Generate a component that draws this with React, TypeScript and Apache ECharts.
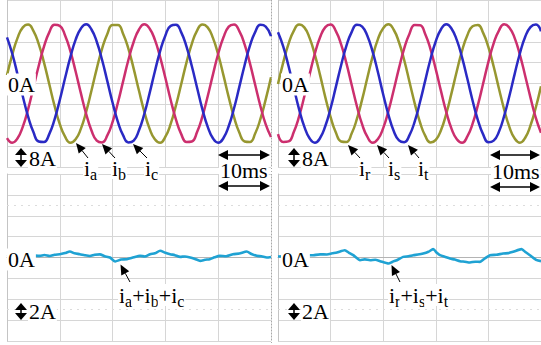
import React, { useEffect, useRef } from "react";
import * as echarts from "echarts";

// ---- data ----
const TIME_STEP_MS = 1;
const TIME_MIN_MS = 0;
const TIME_MAX_MS = 50;
const TIME_DIV_MS = 10;
const TOP_MIN_A = -32;
const TOP_MAX_A = 32;
const TOP_DIV_A = 8;
const BOT_MIN_A = -8;
const BOT_MAX_A = 8;
const BOT_DIV_A = 2;

// left panel, phase currents (A), one sample per ms
const iaLeft = [3.2, 11.1, 17.5, 21.5, 22.6, 20.2, 15.2, 8.1, -0.2, -8.5, -15.6, -20.4, -22.7, -21.4, -17.3, -10.8, -2.7, 5.7, 13.3, 19.0, 22.4, 22.4, 19.0, 13.3, 5.6, -2.8, -10.8, -17.3, -21.4, -22.7, -20.4, -15.5, -8.4, -0.2, 8.1, 15.2, 20.3, 22.6, 21.5, 17.5, 11.1, 3.1, -5.3, -12.9, -18.8, -22.2, -22.4, -19.2, -13.6, -6.1, 2.4];
const ibLeft = [-20.9, -22.7, -21.0, -16.5, -9.8, -1.6, 6.7, 14.1, 19.6, 22.5, 22.1, 18.4, 12.4, 4.6, -3.8, -11.7, -18.0, -21.9, -22.6, -19.9, -14.7, -7.4, 0.9, 9.1, 16.0, 20.7, 22.7, 21.1, 16.8, 10.1, 2.1, -6.3, -13.8, -19.4, -22.4, -22.2, -18.6, -12.7, -5.0, 3.4, 11.4, 17.7, 21.8, 22.6, 20.1, 15.0, 7.8, -0.5, -8.7, -15.7, -20.5];
const icLeft = [17.7, 11.4, 3.4, -5.0, -12.7, -18.6, -22.2, -22.4, -19.4, -13.8, -6.3, 2.1, 10.1, 16.8, 21.1, 22.7, 20.7, 16.0, 9.1, 0.9, -7.4, -14.7, -19.9, -22.6, -21.9, -17.9, -11.7, -3.8, 4.6, 12.4, 18.4, 22.1, 22.5, 19.6, 14.1, 6.7, -1.6, -9.8, -16.5, -21.0, -22.7, -20.9, -16.3, -9.5, -1.3, 7.0, 14.4, 19.7, 22.5, 21.8, 18.2];

// right panel, phase currents (A)
const irRight = [-0.2, 8.1, 15.2, 20.2, 22.6, 21.5, 17.5, 11.1, 3.2, -5.3, -12.9, -18.8, -22.2, -22.4, -19.2, -13.6, -6.1, 2.3, 10.4, 17.0, 21.2, 22.7, 20.6, 15.8, 8.9, 0.6, -7.7, -14.9, -20.1, -22.6, -21.6, -17.8, -11.5, -3.6, 4.8, 12.6, 18.5, 21.9, 22.4, 19.4, 13.9, 6.5, -1.9, -10.0, -16.7, -21.1, -22.7, -20.8, -16.1, -9.3, -1.1];
const isRight = [-19.4, -22.4, -22.2, -18.6, -12.7, -5.0, 3.4, 11.4, 17.7, 21.6, 22.6, 20.1, 15.0, 7.8, -0.5, -8.7, -15.7, -20.5, -22.7, -21.3, -17.1, -10.5, -2.5, 5.9, 13.5, 19.1, 22.4, 22.3, 18.9, 13.1, 5.4, -3.0, -11.0, -17.4, -21.4, -22.7, -20.3, -15.4, -8.3, 0.0, 8.3, 15.4, 20.3, 22.7, 21.4, 17.4, 10.9, 2.9, -5.4, -13.1, -18.9];
const itRight = [19.6, 14.1, 6.7, -1.6, -9.8, -16.5, -21.0, -22.7, -20.9, -16.3, -9.5, -1.3, 7.0, 14.4, 19.7, 22.5, 21.8, 18.2, 12.1, 4.3, -4.2, -12.0, -18.2, -21.8, -22.5, -19.8, -14.5, -7.1, 1.2, 9.4, 16.2, 20.8, 22.7, 21.0, 16.6, 9.9, 1.8, -6.6, -14.0, -19.5, -22.5, -21.9, -18.5, -12.4, -4.7, 3.7, 11.6, 17.9, 21.6, 22.6, 20.0];

// sums of the three currents: [time ms, current A]
const sumLeft: [number, number][] = [
  [0, 0.1], [1.5, 0.18], [3, 0.12], [4.5, 0.2], [6.2, 0.16], [7.1, 0.24], [8.1, 0.14], [9, 0.26], [10, 0.32], [11, 0.42], [11.9, 0.58], [12.8, 0.4], [13.8, 0.32], [14.7, 0.22], [15.7, 0.14], [16.6, 0.26], [17.6, 0.3], [18.5, 0.12], [19.5, 0.0], [20.5, -0.38], [21.6, -0.2], [22.7, -0.16], [24, 0.02], [25.2, 0.16], [26.1, 0.1], [27.1, 0.32], [28, 0.4], [29, 0.64], [30, 0.45], [30.9, 0.32], [31.8, 0.22], [32.8, 0.06], [33.7, 0.1], [34.7, 0], [35.6, -0.14], [36.6, -0.32], [37.5, -0.22], [38.4, -0.16], [39.3, 0.02], [40.3, 0.16], [41.5, 0.12], [42.8, 0.32], [44, 0.38], [45.4, 0.58], [46.3, 0.34], [47.3, 0.16], [48.2, 0.12], [49.2, 0], [50, 0.05],
];
const sumRight: [number, number][] = [
  [0, 0.1], [2, 0.15], [4, 0.1], [5.5, 0.2], [6.7, 0.22], [8, 0.3], [9.3, 0.29], [10.3, 0.4], [11.2, 0.48], [12.7, 0.7], [13.5, 0.45], [14.3, 0.22], [15.6, -0.26], [16.5, -0.18], [17.5, -0.26], [18.5, -0.22], [19.4, -0.35], [21, -0.58], [21.8, -0.4], [22.6, -0.26], [23.8, 0.06], [24.8, 0.12], [25.7, 0.22], [26.6, 0.28], [27.6, 0.38], [28.6, 0.55], [29.5, 0.8], [30.2, 0.45], [30.8, 0.22], [31.8, 0.05], [32.7, -0.1], [33.6, -0.2], [34.6, -0.35], [35.5, -0.4], [36.5, -0.48], [37.5, -0.4], [38.4, -0.42], [39.3, -0.1], [40.3, 0.22], [41.5, 0.26], [42.8, 0.38], [43.8, 0.42], [44.7, 0.54], [46.3, 0.8], [47.1, 0.5], [47.9, 0.22], [49.2, -0.26], [50, -0.35],
];

// faint cursor lines in the lower screens (A)
const cursorLevels = [5, -5];

// labels
const zeroLabel = "0A";
const topScaleLabel = "8A";
const bottomScaleLabel = "2A";
const timeScaleLabel = "10ms";
const leftPhaseSubs = ["a", "b", "c"];
const rightPhaseSubs = ["r", "s", "t"];

// ---- styles ----
const OLIVE = "#979730";
const PINK = "#cc2f6e";
const BLUE = "#2a2ac4";
const CYAN = "#1fa2d3";
const GRIDC = "#d6d6d6";
const SERIF = "'Liberation Serif', 'Times New Roman', 'DejaVu Serif', serif";
const MAIN = 22;
const SUB = 16;

let measureCtx: CanvasRenderingContext2D | null = null;
function textWidth(s: string, size: number): number {
  if (!measureCtx) measureCtx = document.createElement("canvas").getContext("2d");
  if (!measureCtx) return s.length * size * 0.5;
  measureCtx.font = `${size}px ${SERIF}`;
  return measureCtx.measureText(s).width;
}

function txt(text: string, x: number, y: number, size = MAIN, bg = true): any {
  return {
    type: "text",
    x,
    y,
    z: 100,
    silent: true,
    style: {
      text,
      font: `${size}px ${SERIF}`,
      fill: "#000",
      align: "left",
      verticalAlign: "middle",
      backgroundColor: bg ? "#fff" : undefined,
      padding: bg ? [0, 1, 0, 1] : 0,
    },
  };
}

// text made of [string, isSubscript] parts
function subText(x: number, y: number, parts: [string, boolean][], bg = true): any[] {
  const out: any[] = [];
  let cx = x;
  for (const [s, isSub] of parts) {
    const size = isSub ? SUB : MAIN;
    out.push(txt(s, cx, isSub ? y + 6 : y, size, bg));
    cx += textWidth(s, size);
  }
  return out;
}

function arrow(tip: [number, number], tail: [number, number], len = 10, w = 9): any[] {
  const dx = tip[0] - tail[0];
  const dy = tip[1] - tail[1];
  const L = Math.hypot(dx, dy);
  const ux = dx / L;
  const uy = dy / L;
  const bx = tip[0] - ux * len;
  const by = tip[1] - uy * len;
  const px = -uy * (w / 2);
  const py = ux * (w / 2);
  return [
    { type: "line", z: 110, silent: true, shape: { x1: tail[0], y1: tail[1], x2: bx, y2: by }, style: { stroke: "#000", lineWidth: 1 } },
    { type: "polygon", z: 110, silent: true, shape: { points: [tip, [bx + px, by + py], [bx - px, by - py]] }, style: { fill: "#000" } },
  ];
}

function hDoubleArrow(x1: number, x2: number, y: number): any[] {
  return [
    { type: "line", z: 110, silent: true, shape: { x1: x1 + 6, y1: y, x2: x2 - 6, y2: y }, style: { stroke: "#000", lineWidth: 1.6 } },
    { type: "polygon", z: 110, silent: true, shape: { points: [[x1, y], [x1 + 10, y - 5], [x1 + 10, y + 5]] }, style: { fill: "#000" } },
    { type: "polygon", z: 110, silent: true, shape: { points: [[x2, y], [x2 - 10, y - 5], [x2 - 10, y + 5]] }, style: { fill: "#000" } },
  ];
}

function vMarker(cx: number, top: number, bottom: number): any[] {
  return [
    { type: "polygon", z: 110, silent: true, shape: { points: [[cx, top], [cx - 6, top + 7], [cx + 6, top + 7]] }, style: { fill: "#000" } },
    { type: "line", z: 110, silent: true, shape: { x1: cx, y1: top + 6, x2: cx, y2: bottom - 6 }, style: { stroke: "#000", lineWidth: 1.5 } },
    { type: "polygon", z: 110, silent: true, shape: { points: [[cx, bottom], [cx - 6, bottom - 7], [cx + 6, bottom - 7]] }, style: { fill: "#000" } },
  ];
}

function toPairs(arr: number[]): [number, number][] {
  return arr.map((v, i) => [TIME_MIN_MS + i * TIME_STEP_MS, v]);
}

function buildOption(): any {
  const grids = [
    { left: 7, top: 0, width: 264, height: 167 },
    { left: 278, top: 0, width: 265, height: 167 },
    { left: 7, top: 174, width: 264, height: 167 },
    { left: 278, top: 174, width: 265, height: 167 },
  ];
  const xAxis = grids.map((_, i) => ({
    type: "value",
    gridIndex: i,
    min: TIME_MIN_MS,
    max: TIME_MAX_MS,
    interval: TIME_DIV_MS,
    axisLine: { show: i >= 2, lineStyle: { color: "#b4b4b4" } },
    axisTick: { show: false },
    axisLabel: { show: false },
    splitLine: { show: true, lineStyle: { color: GRIDC, width: 1 } },
  }));
  const yAxis = grids.map((_, i) => ({
    type: "value",
    gridIndex: i,
    min: i < 2 ? TOP_MIN_A : BOT_MIN_A,
    max: i < 2 ? TOP_MAX_A : BOT_MAX_A,
    interval: i < 2 ? TOP_DIV_A : BOT_DIV_A,
    axisLine: { show: true, onZero: false, lineStyle: { color: "#c4c4c4" } },
    axisTick: { show: false },
    axisLabel: { show: false },
    splitLine: { show: true, lineStyle: { color: GRIDC, width: 1 } },
  }));

  const phase = (name: string, data: number[], color: string, gi: number) => ({
    name,
    type: "line",
    xAxisIndex: gi,
    yAxisIndex: gi,
    data: toPairs(data),
    smooth: true,
    showSymbol: false,
    silent: true,
    lineStyle: { color, width: 2.5 },
  });
  const sum = (name: string, data: [number, number][], gi: number) => ({
    name,
    type: "line",
    xAxisIndex: gi,
    yAxisIndex: gi,
    data,
    smooth: 0.2,
    showSymbol: false,
    silent: true,
    lineStyle: { color: CYAN, width: 2.6 },
    markLine: {
      silent: true,
      symbol: "none",
      label: { show: false },
      lineStyle: { color: "#dcdcdc", type: [2, 5], width: 1 },
      data: cursorLevels.map((v) => ({ yAxis: v })),
    },
  });

  const series = [
    phase("ia", iaLeft, OLIVE, 0),
    phase("ib", ibLeft, PINK, 0),
    phase("ic", icLeft, BLUE, 0),
    phase("ir", irRight, OLIVE, 1),
    phase("is", isRight, PINK, 1),
    phase("it", itRight, BLUE, 1),
    sum("ia+ib+ic", sumLeft, 2),
    sum("ir+is+it", sumRight, 3),
  ];

  const g: any[] = [];
  g.push({ type: "line", z: 90, silent: true, shape: { x1: 271.5, y1: 0, x2: 271.5, y2: 345 }, style: { stroke: "#a8a8a8", lineWidth: 1, lineDash: [1, 2] } });

  // left side
  g.push(txt(zeroLabel, 7, 84.5));
  g.push(...vMarker(21, 148, 167));
  g.push(txt(topScaleLabel, 28, 158.5));
  const leftI = [83, 111, 144];
  leftPhaseSubs.forEach((s, k) => g.push(...subText(leftI[k], 168, [["i", false], [s, true]])));
  g.push(...arrow([76, 143], [88, 158]));
  g.push(...arrow([102, 144], [115, 158]));
  g.push(...arrow([133, 144], [147, 158]));
  g.push(...hDoubleArrow(218, 270, 155));
  g.push(txt(timeScaleLabel, 219, 170));
  g.push(...hDoubleArrow(218, 270, 186));
  g.push(txt(zeroLabel, 7, 259.5));
  g.push(...vMarker(21, 303, 320));
  g.push(txt(bottomScaleLabel, 28, 311));
  g.push(...subText(118, 295, [["i", false], [leftPhaseSubs[0], true], ["+i", false], [leftPhaseSubs[1], true], ["+i", false], [leftPhaseSubs[2], true]]));
  g.push(...arrow([120.5, 264.5], [130, 282]));

  // right side
  g.push(txt(zeroLabel, 281, 84.5));
  g.push(...vMarker(294, 148, 167));
  g.push(txt(topScaleLabel, 301, 158.5));
  const rightI = [358, 387, 417];
  rightPhaseSubs.forEach((s, k) => g.push(...subText(rightI[k], 168, [["i", false], [s, true]])));
  g.push(...arrow([348, 145], [360, 158]));
  g.push(...arrow([377, 145], [389, 158]));
  g.push(...arrow([408, 145], [419, 158]));
  g.push(...hDoubleArrow(490, 540, 155));
  g.push(txt(timeScaleLabel, 491, 171));
  g.push(...hDoubleArrow(490, 540, 187));
  g.push(txt(zeroLabel, 281, 259.5));
  g.push(...vMarker(294, 303, 320));
  g.push(txt(bottomScaleLabel, 301, 311));
  g.push(...subText(388, 295, [["i", false], [rightPhaseSubs[0], true], ["+i", false], [rightPhaseSubs[1], true], ["+i", false], [rightPhaseSubs[2], true]]));
  g.push(...arrow([391.5, 265], [400, 282]));

  return {
    animation: false,
    backgroundColor: "#ffffff",
    grid: grids,
    xAxis,
    yAxis,
    series,
    graphic: { elements: g },
  };
}

export default function App() {
  const ref = useRef<HTMLDivElement | null>(null);
  useEffect(() => {
    if (!ref.current) return;
    const chart = echarts.init(ref.current, undefined, { renderer: "svg" });
    chart.setOption(buildOption());
    return () => chart.dispose();
  }, []);
  return (
    <div
      ref={ref}
      style={{ position: "fixed", left: 0, top: 0, width: 541, height: 345, background: "#fff" }}
    />
  );
}
